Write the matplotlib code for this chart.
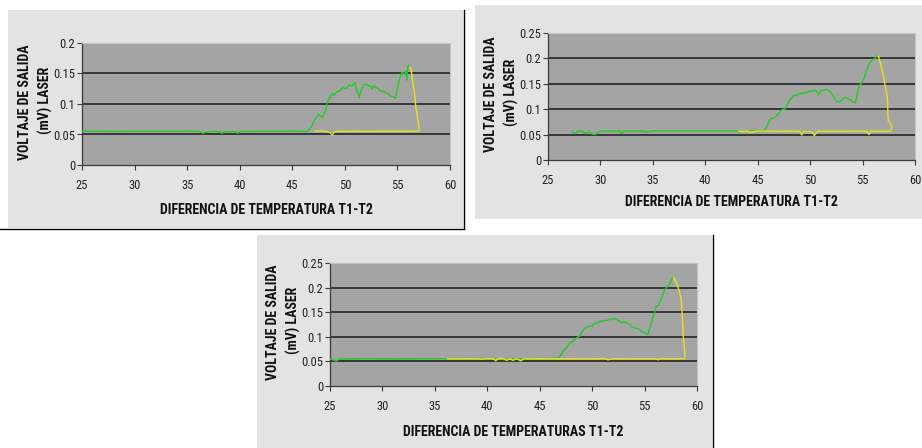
import matplotlib
matplotlib.use("Agg")
import matplotlib.pyplot as plt
from matplotlib import font_manager as fm
from matplotlib.patches import Rectangle
from matplotlib.lines import Line2D

# ---------------- data ----------------
# Panel 1 (top-left)
g1_x = [25.0, 26.2, 28.0, 30.0, 32.0, 34.0, 35.5, 36.2, 36.5, 36.8, 37.5, 38.1, 38.3, 38.6, 39.5, 39.8,
        40.1, 41.2, 42.0, 44.0, 45.5, 46.4, 46.6, 46.8, 47.06, 47.3, 47.5, 47.7, 47.86, 48.05, 48.2, 48.3,
        48.5, 48.65, 48.8, 48.97, 49.2, 49.44, 49.7, 49.9, 50.1, 50.4, 50.7, 50.94, 51.15, 51.35, 51.5,
        51.67, 51.8, 51.98, 52.2, 52.46, 52.6, 52.75, 52.94, 53.2, 53.4, 53.6, 53.9, 54.1, 54.37, 54.6,
        54.84, 55.0, 55.1, 55.25, 55.4, 55.57, 55.7, 55.8, 55.9, 55.95, 56.0, 56.1]
g1_y = [0.055, 0.0555, 0.055, 0.0552, 0.0552, 0.0553, 0.0555, 0.055, 0.052, 0.054, 0.055, 0.0545, 0.052,
        0.0545, 0.055, 0.052, 0.0548, 0.055, 0.0552, 0.0553, 0.0555, 0.055, 0.058, 0.063, 0.072, 0.078,
        0.083, 0.080, 0.078, 0.086, 0.089, 0.102, 0.108, 0.113, 0.117, 0.114, 0.120, 0.121, 0.125, 0.127,
        0.125, 0.131, 0.130, 0.135, 0.122, 0.110, 0.120, 0.127, 0.131, 0.133, 0.130, 0.129, 0.124, 0.130,
        0.127, 0.125, 0.121, 0.122, 0.118, 0.117, 0.113, 0.112, 0.109, 0.127, 0.135, 0.143, 0.152, 0.151,
        0.148, 0.154, 0.139, 0.155, 0.162, 0.164]
y1_x = [56.2, 56.3, 56.4, 56.5, 56.6, 56.7, 56.75, 56.85, 56.9, 57.0, 57.06, 57.0, 56.0, 55.0, 54.0, 53.0,
        52.0, 51.2, 50.0, 49.3, 49.0, 48.8, 48.6, 48.2, 47.6, 47.2]
y1_y = [0.160, 0.157, 0.143, 0.130, 0.121, 0.105, 0.094, 0.085, 0.078, 0.068, 0.057, 0.0555, 0.0555,
        0.0553, 0.0555, 0.0552, 0.055, 0.0553, 0.055, 0.0552, 0.0545, 0.049, 0.053, 0.0555, 0.0557, 0.0555]

# Panel 2 (top-right)
g2_x = [27.3, 27.5, 27.8, 28.3, 28.6, 28.9, 29.2, 29.5, 29.8, 30.2, 31.0, 31.9, 32.0, 32.2, 33.0, 34.1,
        34.2, 35.0, 36.0, 38.0, 40.0, 42.0, 43.0, 43.2, 44.0, 45.0, 45.5, 45.7, 45.95, 46.2, 46.45, 46.7,
        46.95, 47.2, 47.4, 47.6, 47.8, 48.0, 48.25, 48.5, 48.75, 49.0, 49.25, 49.5, 49.7, 49.9, 50.15,
        50.4, 50.6, 50.8, 51.0, 51.25, 51.5, 51.8, 52.0, 52.15, 52.35, 52.5, 52.8, 53.0, 53.1, 53.35,
        53.6, 53.8, 54.0, 54.3, 54.5, 54.7, 54.85, 55.0, 55.15, 55.3, 55.45, 55.6, 55.8, 56.0, 56.2, 56.4]
g2_y = [0.056, 0.052, 0.056, 0.0565, 0.052, 0.056, 0.051, 0.050, 0.055, 0.0565, 0.0565, 0.0565, 0.052,
        0.0565, 0.0565, 0.0565, 0.055, 0.0568, 0.057, 0.057, 0.057, 0.057, 0.057, 0.055, 0.0565, 0.057,
        0.057, 0.059, 0.070, 0.081, 0.082, 0.085, 0.090, 0.097, 0.100, 0.100, 0.108, 0.117, 0.122, 0.128,
        0.127, 0.131, 0.130, 0.134, 0.132, 0.136, 0.135, 0.138, 0.135, 0.128, 0.136, 0.137, 0.139, 0.136,
        0.133, 0.128, 0.120, 0.116, 0.114, 0.118, 0.121, 0.123, 0.121, 0.119, 0.116, 0.112, 0.130, 0.148,
        0.150, 0.154, 0.162, 0.171, 0.180, 0.188, 0.194, 0.198, 0.200, 0.206]
y2_x = [56.5, 56.7, 56.85, 57.0, 57.1, 57.2, 57.35, 57.4, 57.4, 57.45, 57.6, 57.75, 57.8, 57.7, 57.5,
        56.5, 55.8, 55.6, 55.4, 54.5, 53.5, 52.5, 51.5, 50.8, 50.6, 50.4, 50.2, 49.4, 49.2, 49.0, 48.0,
        47.0, 46.0, 45.0, 44.5, 44.2, 44.0, 43.6, 43.2]
y2_y = [0.205, 0.191, 0.178, 0.164, 0.152, 0.141, 0.124, 0.110, 0.098, 0.077, 0.074, 0.068, 0.063, 0.058,
        0.0565, 0.0565, 0.0565, 0.050, 0.0565, 0.057, 0.0565, 0.0565, 0.0565, 0.0565, 0.054, 0.048, 0.055,
        0.0565, 0.049, 0.0565, 0.057, 0.0565, 0.057, 0.057, 0.055, 0.0545, 0.057, 0.0555, 0.057]

# Panel 3 (bottom)
g3_x = [25.0, 25.3, 25.6, 25.9, 27.0, 29.0, 31.0, 33.0, 35.0, 36.3, 38.0, 40.0, 42.0, 44.0, 46.0, 46.84,
        47.2, 47.5, 47.7, 47.86, 48.1, 48.33, 48.65, 48.8, 48.97, 49.3, 49.5, 49.76, 50.0, 50.24, 50.5,
        50.7, 50.95, 51.2, 51.45, 51.67, 51.9, 52.14, 52.4, 52.6, 52.85, 53.1, 53.35, 53.6, 53.8, 54.05,
        54.3, 54.5, 54.75, 55.0, 55.3, 55.6, 55.8, 55.95, 56.1, 56.27, 56.45, 56.6, 56.75, 56.9, 57.1,
        57.3, 57.5, 57.7]
g3_y = [0.055, 0.053, 0.050, 0.055, 0.055, 0.0555, 0.055, 0.0553, 0.0555, 0.0555, 0.056, 0.0555, 0.055,
        0.0555, 0.056, 0.057, 0.0705, 0.077, 0.082, 0.088, 0.090, 0.0945, 0.100, 0.101, 0.108, 0.118,
        0.119, 0.122, 0.121, 0.127, 0.128, 0.132, 0.131, 0.134, 0.133, 0.1356, 0.135, 0.137, 0.134, 0.132,
        0.128, 0.131, 0.127, 0.125, 0.120, 0.118, 0.117, 0.115, 0.111, 0.108, 0.105, 0.125, 0.140, 0.149,
        0.162, 0.163, 0.170, 0.177, 0.186, 0.194, 0.200, 0.204, 0.212, 0.221]
y3_x = [57.76, 58.0, 58.15, 58.3, 58.45, 58.5, 58.6, 58.65, 58.7, 58.75, 58.8, 58.87, 58.8, 58.0, 57.0,
        56.5, 56.3, 56.1, 55.0, 54.0, 53.0, 52.0, 51.5, 51.3, 50.0, 49.0, 48.0, 47.0, 46.0, 45.0, 44.0,
        43.5, 43.2, 43.0, 42.8, 42.4, 42.2, 41.8, 41.6, 41.0, 40.8, 40.6, 40.0, 39.5, 39.0, 38.0, 37.0,
        36.2]
y3_y = [0.221, 0.211, 0.203, 0.194, 0.180, 0.170, 0.142, 0.122, 0.098, 0.085, 0.077, 0.060, 0.0555,
        0.0555, 0.0555, 0.0555, 0.053, 0.0555, 0.0555, 0.0555, 0.055, 0.0555, 0.053, 0.0555, 0.0555,
        0.0553, 0.0555, 0.0555, 0.0553, 0.0555, 0.0553, 0.0555, 0.051, 0.053, 0.0555, 0.052, 0.0555,
        0.052, 0.0555, 0.0555, 0.051, 0.0555, 0.0555, 0.0545, 0.0555, 0.0555, 0.0553, 0.0555]

x_ticks = [25, 30, 35, 40, 45, 50, 55, 60]
x_tick_labels = ["25", "30", "35", "40", "45", "50", "55", "60"]
y_ticks_a = [0, 0.05, 0.1, 0.15, 0.2]
y_tick_labels_a = ["0", "0.05", "0.1", "0.15", "0.2"]
y_ticks_b = [0, 0.05, 0.1, 0.15, 0.2, 0.25]
y_tick_labels_b = ["0", "0.05", "0.1", "0.15", "0.2", "0.25"]

ylabel_line1 = "VOLTAJE DE SALIDA"
ylabel_line2 = "(mV) LASER"
xlabel_a = "DIFERENCIA DE TEMPERATURA T1-T2"
xlabel_b = "DIFERENCIA DE TEMPERATURAS T1-T2"

# ---------------- style ----------------
names = {f.name for f in fm.fontManager.ttflist}
FONT = "Liberation Sans"
for cand in ["Liberation Sans Narrow", "Roboto Condensed", "PT Sans Narrow", "Archivo Narrow"]:
    if cand in names:
        FONT = cand
        break

W, H = 922, 448
fig = plt.figure(figsize=(W / 100, H / 100), dpi=100)
fig.patch.set_facecolor("white")

PANEL_BG = "#e3e3e3"
PLOT_BG = "#a4a4a4"
GRID = "#2e2e2e"
GREEN = "#22cc22"
YELLOW = "#e6e21a"


def fx(px):
    return px / W


def fy(py):
    return 1 - py / H


def panel(bg, axbox, gx, gy, yx, yy, yticks, ylabels, xlabel, xlab_y):
    x0, y0, x1, y1 = bg
    fig.add_artist(Rectangle((fx(x0), fy(y1)), fx(x1 - x0), (y1 - y0) / H,
                             transform=fig.transFigure, facecolor=PANEL_BG,
                             edgecolor="none", zorder=-10))
    l, t, r, b = axbox
    ax = fig.add_axes([fx(l), fy(b), fx(r - l), (b - t) / H])
    ax.set_facecolor(PLOT_BG)
    ax.set_xlim(x_ticks[0], x_ticks[-1])
    ax.set_ylim(yticks[0], yticks[-1])
    ax.set_xticks(x_ticks)
    ax.set_xticklabels(x_tick_labels)
    ax.set_yticks(yticks)
    ax.set_yticklabels(ylabels)
    for v in yticks[1:-1]:
        ax.axhline(v, color=GRID, lw=1.3, zorder=1)
    ax.plot(gx, gy, color=GREEN, lw=1.0, zorder=3)
    ax.plot(yx, yy, color=YELLOW, lw=1.0, zorder=4)
    for s in ("top", "right"):
        ax.spines[s].set_color("#c4c4c4")
        ax.spines[s].set_linewidth(0.8)
    for s in ("left", "bottom"):
        ax.spines[s].set_color("#3a3a3a")
        ax.spines[s].set_linewidth(0.9)
    ax.tick_params(axis="both", direction="out", length=3.5, width=0.8, color="#3a3a3a",
                   labelsize=9, labelcolor="#222222")
    ax.tick_params(axis="x", pad=6.5)
    ax.tick_params(axis="y", pad=1.5)
    for lab in ax.get_xticklabels() + ax.get_yticklabels():
        lab.set_fontfamily(FONT)
    cx = (l + r) / 2
    cy = (t + b) / 2
    fig.text(fx(cx), fy(xlab_y), xlabel, ha="center", va="center", fontsize=10,
             fontweight="bold", family=FONT, color="#111111")
    fig.text(fx(l - 57), fy(cy - 2), ylabel_line1, ha="center", va="center", rotation=90,
             fontsize=10, fontweight="bold", family=FONT, color="#111111")
    fig.text(fx(l - 37), fy(cy - 4), ylabel_line2, ha="center", va="center", rotation=90,
             fontsize=10, fontweight="bold", family=FONT, color="#111111")
    return ax


panel((8, 10, 463, 228), (82, 43, 450, 165), g1_x, g1_y, y1_x, y1_y,
      y_ticks_a, y_tick_labels_a, xlabel_a, 210.5)
panel((475, 5, 922, 219), (548, 33, 915, 160), g2_x, g2_y, y2_x, y2_y,
      y_ticks_b, y_tick_labels_b, xlabel_a, 201.5)
panel((257, 235, 712, 448), (330, 263, 697, 386), g3_x, g3_y, y3_x, y3_y,
      y_ticks_b, y_tick_labels_b, xlabel_b, 431.5)

# frame lines
fig.add_artist(Line2D([fx(463.5), fx(463.5)], [fy(10), fy(228)], transform=fig.transFigure,
                      color="black", lw=1.0))
fig.add_artist(Line2D([fx(0), fx(464)], [fy(228.5), fy(228.5)], transform=fig.transFigure,
                      color="black", lw=1.0))
fig.add_artist(Line2D([fx(713), fx(713)], [fy(235), fy(448)], transform=fig.transFigure,
                      color="black", lw=1.0))

fig.savefig("out.png", dpi=100, facecolor="white")
